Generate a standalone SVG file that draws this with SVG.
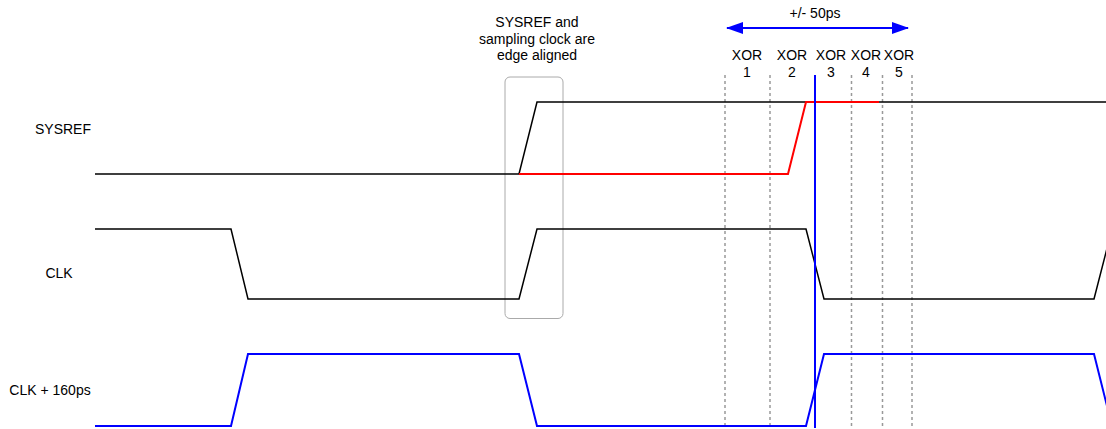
<svg xmlns="http://www.w3.org/2000/svg" width="1106" height="429" viewBox="0 0 1106 429">
<style>
text{font-family:"Liberation Sans",Arial,sans-serif;font-size:14px;fill:#000;text-anchor:middle}
.w{fill:none;stroke-linejoin:miter}
.blk{stroke:#000;stroke-width:1.5}
.red{stroke:#ff0000;stroke-width:2}
.blu{stroke:#0000ff;stroke-width:2}
.dot{stroke:#999;stroke-width:1.5;stroke-dasharray:3 3;fill:none}
</style>
<defs>
<marker id="ah" viewBox="0 0 17 12" refX="16" refY="6" markerWidth="17" markerHeight="12" markerUnits="userSpaceOnUse" orient="auto-start-reverse">
<path d="M0,0 L17,6 L0,12 Z" fill="#0000ff"/>
</marker>
</defs>
<rect width="1106" height="429" fill="#fff"/>
<g id="labels">
<text x="63" y="134">SYSREF</text>
<text x="59" y="278">CLK</text>
<text x="50" y="395">CLK + 160ps</text>
</g>
<g id="xor-markers">
<line class="dot" x1="725" y1="75" x2="725" y2="429"/>
<line class="dot" x1="770" y1="75" x2="770" y2="429"/>
<line class="dot" x1="851.5" y1="75" x2="851.5" y2="429"/>
<line class="dot" x1="882.5" y1="75" x2="882.5" y2="429"/>
<line class="dot" x1="912" y1="75" x2="912" y2="429"/>
<text x="747" y="60">XOR</text><text x="747" y="77">1</text>
<text x="792" y="60">XOR</text><text x="792" y="77">2</text>
<text x="831" y="60">XOR</text><text x="831" y="77">3</text>
<text x="866" y="60">XOR</text><text x="866" y="77">4</text>
<text x="899" y="60">XOR</text><text x="899" y="77">5</text>
</g>
<g id="alignment-box">
<rect x="505" y="77" width="58" height="241.5" rx="5" ry="5" fill="none" stroke="#aaa" stroke-width="1"/>
<text x="537" y="27">SYSREF and</text>
<text x="537" y="43.5">sampling clock are</text>
<text x="537" y="60">edge aligned</text>
</g>
<g id="waveforms">
<polyline class="w blk" points="95,174 519,174 537,102 1106,102"/>
<polyline class="w red" points="519,174 788,174 806,102 879,102"/>
<polyline class="w blk" points="95,229 231,229 248,299 519,299 537,229 806,229 824,299 1094,299 1112,229"/>
<polyline class="w blu" points="95,426 231,426 248,354 519,354 537,426 806,426 824,354 1094,354 1112,426"/>
</g>
<g id="connectors">
<line class="blu" x1="815" y1="75" x2="815" y2="428"/>
<line class="blu" x1="727" y1="28" x2="908" y2="28" marker-start="url(#ah)" marker-end="url(#ah)"/>
<text x="815" y="18">+/- 50ps</text>
</g>
</svg>
